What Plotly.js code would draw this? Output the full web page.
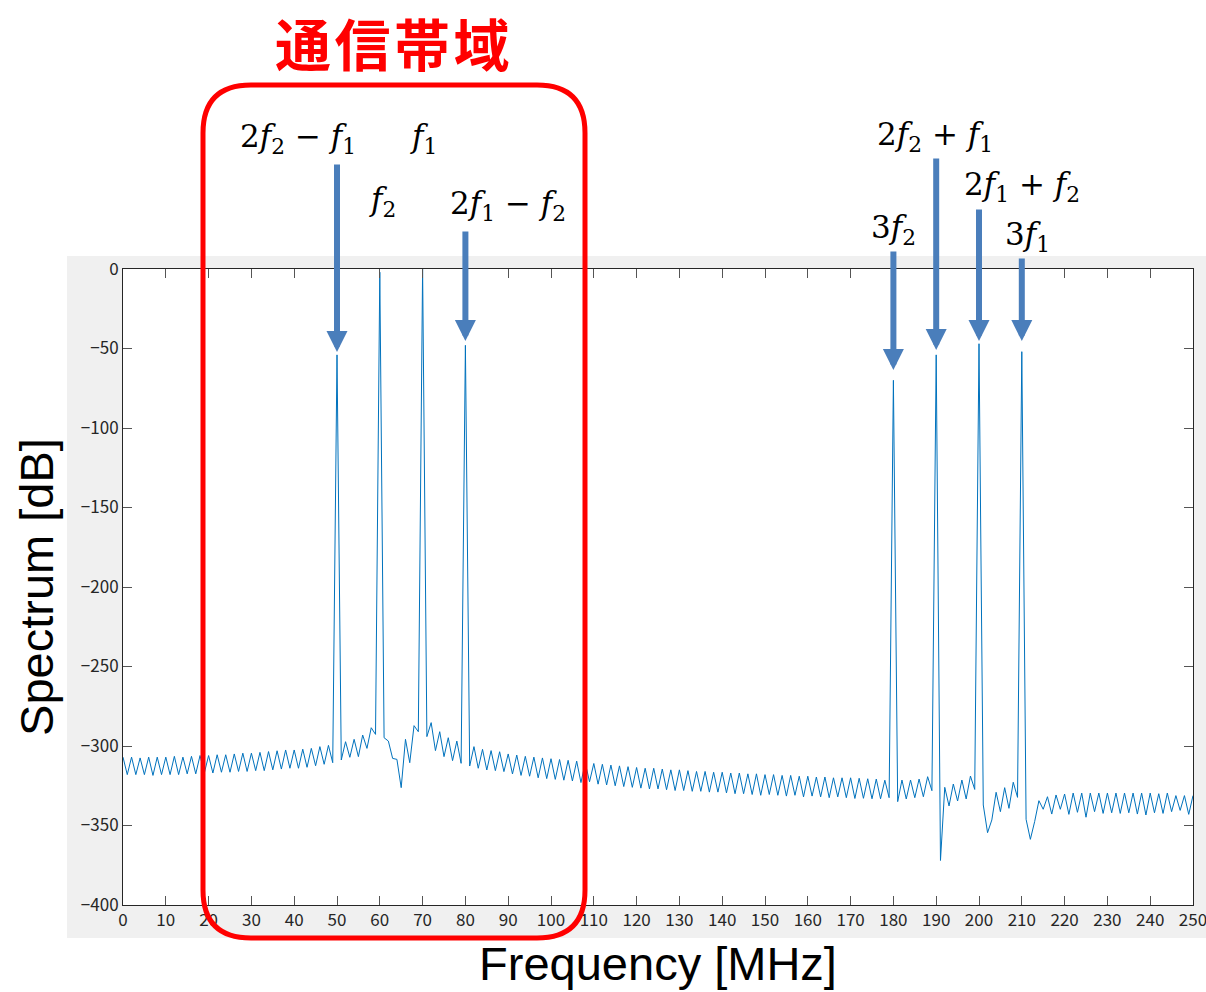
<!DOCTYPE html>
<html>
<head>
<meta charset="utf-8">
<script src="https://cdn.plot.ly/plotly-3.0.1.min.js"></script>
<style>html,body{margin:0;padding:0;background:#fff;}#chart{width:1206px;height:992px;}</style>
</head>
<body>
<div id="chart"></div>
<script>
// ---- data ----
const frequencyMHz = [
  0,1,2,3,4,5,6,7,8,9,10,11,12,13,14,15,16,17,18,19,
  20,21,22,23,24,25,26,27,28,29,30,31,32,33,34,35,36,37,38,39,
  40,41,42,43,44,45,46,47,48,49,50,51,52,53,54,55,56,57,58,59,
  60,61,62,63,64,65,66,67,68,69,70,71,72,73,74,75,76,77,78,79,
  80,81,82,83,84,85,86,87,88,89,90,91,92,93,94,95,96,97,98,99,
  100,101,102,103,104,105,106,107,108,109,110,111,112,113,114,115,116,117,118,119,
  120,121,122,123,124,125,126,127,128,129,130,131,132,133,134,135,136,137,138,139,
  140,141,142,143,144,145,146,147,148,149,150,151,152,153,154,155,156,157,158,159,
  160,161,162,163,164,165,166,167,168,169,170,171,172,173,174,175,176,177,178,179,
  180,181,182,183,184,185,186,187,188,189,190,191,192,193,194,195,196,197,198,199,
  200,201,202,203,204,205,206,207,208,209,210,211,212,213,214,215,216,217,218,219,
  220,221,222,223,224,225,226,227,228,229,230,231,232,233,234,235,236,237,238,239,
  240,241,242,243,244,245,246,247,248,249,250
];
const spectrumDB = [
  -307,-318,-307,-318,-307.5,-318,-307,-318.5,-307,-318,-307,-318,-306.5,-318,-307,-317.5,-306.5,-317.5,-306,-317,
  -306,-317,-305.5,-316.5,-305.5,-316.5,-305,-316,-304.5,-316,-304.5,-315.5,-304,-315.5,-303.5,-315,-303,-314.5,-302.5,-314,
  -302.5,-314,-302,-313.4,-301.5,-312.4,-300.4,-311.5,-299.6,-310.5,-54,-308.8,-297.3,-307.1,-295.8,-306.7,-293.1,-301.5,-288.5,-292.7,
  -2,-294.8,-296.9,-307.8,-308.4,-326.2,-295.8,-310.5,-287.2,-291,0,-294.1,-285.3,-302.9,-291,-306.7,-294.8,-309.2,-296.9,-310.9,
  -48,-312.6,-300.4,-314,-302.1,-315.1,-302.9,-315.5,-303.6,-316.1,-305,-317.6,-305.7,-318.5,-306.5,-319,-307,-320,-307.5,-320.5,
  -308,-321,-308.5,-321.5,-309,-322,-309.5,-323,-310.5,-322.5,-311,-324,-311.5,-324.5,-312,-325,-312.5,-325.5,-313,-326,
  -313.5,-326.5,-314,-327,-314,-327,-314.5,-327.5,-315,-328,-315,-328,-315.5,-328.5,-316,-328.5,-316,-329,-316.5,-329,
  -316.5,-329.5,-317,-330,-317,-330,-317.5,-330.5,-317.5,-331,-318,-330.5,-318,-331,-318.5,-331.5,-318.5,-331,-319,-332,
  -319,-331.5,-319.5,-332,-319.5,-332.5,-320,-332,-320,-332.5,-320,-333,-320.3,-332.9,-320.6,-333.2,-320.8,-333.2,-321.5,-332.5,
  -70,-335,-321.4,-333.3,-321.4,-332.5,-320.8,-331.9,-319.3,-328.1,-54,-372,-326,-337.7,-323.9,-334.6,-321.4,-333.3,-318.9,-327.3,
  -47,-337.1,-354.5,-346.5,-329.1,-341.3,-326.2,-339.2,-322.8,-332.3,-52,-346.1,-358.7,-347.6,-334.4,-339.8,-331.9,-342.8,-330.8,-339.8,
  -330.2,-343,-329.6,-341.7,-329.6,-344.8,-329.6,-341.3,-329.6,-342.4,-329.6,-342,-329.6,-342.4,-329.6,-342,-329.6,-342.8,-329.6,-343.4,
  -329.6,-342,-330,-342.4,-329.6,-341.3,-331.2,-340.5,-331.2,-343,-331.2
];
const xTickVals = [0,10,20,30,40,50,60,70,80,90,100,110,120,130,140,150,160,170,180,190,200,210,220,230,240,250];
const xTickText = ['0','10','20','30','40','50','60','70','80','90','100','110','120','130','140','150','160','170','180','190','200','210','220','230','240','250'];
const yTickVals = [0,-50,-100,-150,-200,-250,-300,-350,-400];
const yTickText = ['0','−50','−100','−150','−200','−250','−300','−350','−400'];
const componentFreqs = [50,60,70,80,180,190,200,210];
const componentLabels = [
  '2<i>f</i><sub>2</sub> − <i>f</i><sub>1</sub>',
  '<i>f</i><sub>2</sub>',
  '<i>f</i><sub>1</sub>',
  '2<i>f</i><sub>1</sub> − <i>f</i><sub>2</sub>',
  '3<i>f</i><sub>2</sub>',
  '2<i>f</i><sub>2</sub> + <i>f</i><sub>1</sub>',
  '2<i>f</i><sub>1</sub> + <i>f</i><sub>2</sub>',
  '3<i>f</i><sub>1</sub>'
];
const bandTitle = '通\u200A信\u200A帯\u200A域';

// ---- layout helpers (pixel -> paper / data) ----
const L = 123, R = 1193, T = 269, B = 905;
const px = x => (x - L) / (R - L);
const py = y => (B - y) / (B - T);
const pyData = y => -400 * (y - T) / (B - T);

// arrow tail/tip (pixel y) and label centre (pixel) per component
const arrowTail = [163, 230, 172, 230, 250, 157, 208, 257];
const arrowTip  = [352, 266, 266, 341, 370, 350, 341, 341];
const labelPos  = [[298,138],[382,201],[423,138],[508,206],[893,229],[935,136],[1022,187],[1027,236]];

const annotations = [];
componentFreqs.forEach((f, i) => {
  annotations.push({
    x: f, y: pyData(arrowTip[i]), xref: 'x', yref: 'y',
    ax: f, ay: pyData(arrowTail[i]), axref: 'x', ayref: 'y',
    text: '', showarrow: true, arrowhead: 2, arrowsize: 0.7, arrowwidth: 6,
    arrowcolor: '#4A7EBB', standoff: 0
  });
  annotations.push({
    x: px(labelPos[i][0]), y: py(labelPos[i][1]), xref: 'paper', yref: 'paper',
    text: componentLabels[i], showarrow: false, xanchor: 'center', yanchor: 'middle',
    font: {family: 'DejaVu Serif, serif', size: 31, color: '#000'}
  });
});
annotations.push({
  x: px(393), y: py(41), xref: 'paper', yref: 'paper', text: '<b>' + bandTitle + '</b>',
  showarrow: false, xanchor: 'center', yanchor: 'middle', borderpad: 0,
  font: {family: 'Noto Sans CJK JP, sans-serif', size: 56, color: '#FF0000'}
});

// rounded rectangle for the band
const bx0 = 203, bx1 = 585, by0 = 85, by1 = 938, r = 48;
const P = (x, y) => px(x) + ',' + py(y);
const bandPath = 'M' + P(bx0 + r, by0) + ' L' + P(bx1 - r, by0) + ' Q' + P(bx1, by0) + ' ' + P(bx1, by0 + r) +
  ' L' + P(bx1, by1 - r) + ' Q' + P(bx1, by1) + ' ' + P(bx1 - r, by1) +
  ' L' + P(bx0 + r, by1) + ' Q' + P(bx0, by1) + ' ' + P(bx0, by1 - r) +
  ' L' + P(bx0, by0 + r) + ' Q' + P(bx0, by0) + ' ' + P(bx0 + r, by0) + ' Z';

const grayRect = (x0, x1, y0, y1) => ({type: 'rect', xref: 'paper', yref: 'paper',
  x0: px(x0), x1: px(x1), y0: py(y1), y1: py(y0), fillcolor: '#F0F0F0', line: {width: 0}, layer: 'below'});

const shapes = [
  grayRect(67, L, 256, 938),
  grayRect(R, 1206, 256, 938),
  grayRect(L, R, 256, T),
  grayRect(L, R, B, 938),
  {type: 'path', xref: 'paper', yref: 'paper', path: bandPath, line: {color: '#FF0000', width: 5}, layer: 'above'}
];

const tickFont = {family: 'Noto Sans CJK JP, Liberation Sans, sans-serif', size: 17, color: '#262626'};

const layout = {
  width: 1206, height: 992,
  margin: {l: L, r: 1206 - R, t: T, b: 992 - B, pad: 0},
  paper_bgcolor: '#FFFFFF', plot_bgcolor: '#FFFFFF',
  showlegend: false,
  xaxis: {
    range: [0, 250], tickvals: xTickVals, ticktext: xTickText, ticks: 'inside', ticklen: 9, tickcolor: '#555',
    showline: true, linecolor: '#262626', linewidth: 1, mirror: 'ticks', showgrid: false, zeroline: false,
    tickfont: tickFont, ticklabeloverflow: 'allow',
    title: {text: 'Frequency [MHz]', font: {family: 'Liberation Sans, Arial, sans-serif', size: 47, color: '#000'}, standoff: 16}
  },
  yaxis: {
    range: [-400, 0], tickvals: yTickVals, ticktext: yTickText, ticks: 'inside', ticklen: 9, tickcolor: '#555',
    showline: true, linecolor: '#262626', linewidth: 1, mirror: 'ticks', showgrid: false, zeroline: false,
    tickfont: tickFont,
    title: {text: 'Spectrum [dB]', font: {family: 'Liberation Sans, Arial, sans-serif', size: 47, color: '#000'}, standoff: 12}
  },
  annotations: annotations,
  shapes: shapes
};

Plotly.newPlot('chart', [{
  x: frequencyMHz, y: spectrumDB, type: 'scatter', mode: 'lines',
  line: {color: '#0072BD', width: 1}, hoverinfo: 'x+y'
}], layout, {displayModeBar: false, staticPlot: true});
</script>
</body>
</html>
